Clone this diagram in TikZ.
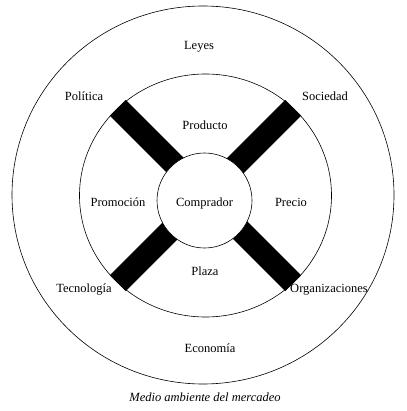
\documentclass[tikz,border=0pt]{standalone}
\usepackage{fontspec}
\setmainfont{Liberation Serif}
\usetikzlibrary{shapes.geometric,backgrounds}

\tikzset{
    ring/.style={draw=black, line width=0.6pt, ellipse, inner sep=0pt},
    bar/.style={black, line width=22.5pt, line cap=butt},
    lbl/.style={text=black, inner sep=1pt, font=\fontsize{12.5}{14}\selectfont}
}

\begin{document}
\begin{tikzpicture}[x=1pt, y=-1pt]
    \useasboundingbox (0,0) rectangle (406,411);
    % circles
    \node[ring, minimum width=382pt, minimum height=378pt] (medio) at (203,195) {};
    \node[ring, minimum width=252pt, minimum height=243pt] (mezcla) at (205.5,195.5) {};
    \node[ring, circle, fill=white, minimum size=95pt, lbl, text height=14pt] (comprador) at (204.5,200.5) {Comprador};
    % bars
    \begin{pgfonlayer}{background}
        \foreach \a in {45,135,225,315}
            \draw[bar] (mezcla.\a) -- (mezcla.center);
    \end{pgfonlayer}
    % mix
    \node[lbl] (producto) at (205,125) {Producto};
    \node[lbl] (promocion) at (118,202) {Promoción};
    \node[lbl] (precio) at (291,202) {Precio};
    \node[lbl] (plaza) at (205,271) {Plaza};
    % environment
    \node[lbl] (leyes) at (199,47) {Leyes};
    \node[lbl] (politica) at (84,96) {Política};
    \node[lbl] (sociedad) at (325,96) {Sociedad};
    \node[lbl] (tecnologia) at (84,290) {Tecnología};
    \node[lbl] (organizaciones) at (329,290) {Organizaciones};
    \node[lbl] (economia) at (210,348) {Economía};
    \node[lbl, font=\fontsize{12.5}{14}\selectfont\itshape] (titulo) at (205,397) {Medio ambiente del mercadeo};
\end{tikzpicture}
\end{document}
